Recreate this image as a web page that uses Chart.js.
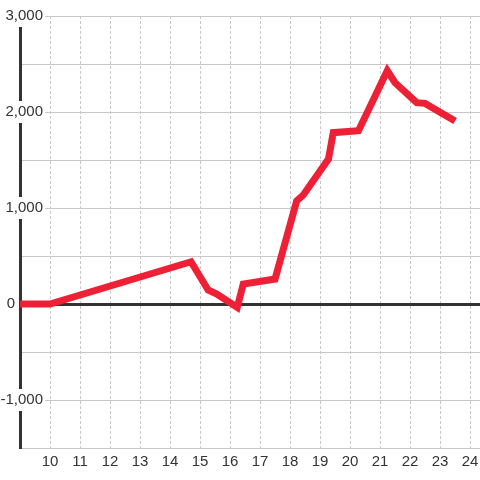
<!DOCTYPE html>
<html>
<head>
<meta charset="utf-8">
<script src="https://cdn.jsdelivr.net/npm/chart.js@4/dist/chart.umd.min.js"></script>
<style>
  html, body { margin: 0; padding: 0; background: #fff; }
  canvas { display: block; }
</style>
</head>
<body>
<canvas id="chart" width="480" height="480"></canvas>
<script>
// line values
var xs = [9, 10, 14.7, 15.27, 15.56, 16.24, 16.44, 17.5, 18.22, 18.44, 19.28, 19.44, 20.28, 21.24, 21.5, 22.22, 22.5, 23.5];
var ys = [0, 0, 440, 146, 104, -35, 208, 260, 1073, 1135, 1510, 1785, 1805, 2430, 2305, 2097, 2090, 1906];

// axis ticks
var xTicks = [10, 11, 12, 13, 14, 15, 16, 17, 18, 19, 20, 21, 22, 23, 24];
var yTicks = [-1500, -1000, -500, 0, 500, 1000, 1500, 2000, 2500, 3000];

var points = xs.map(function (x, i) { return { x: x, y: ys[i] }; });

var tickFont = { family: "'Liberation Sans', Arial, sans-serif", size: 15 };

new Chart(document.getElementById('chart'), {
    type: 'line',
    data: {
        datasets: [{
            data: points,
            borderColor: '#ee2035',
            borderWidth: 7,
            pointRadius: 0,
            tension: 0,
            fill: false
        }]
    },
    options: {
        responsive: false,
        animation: false,
        layout: { padding: { left: 20, top: 16, right: 0, bottom: 0 } },
        plugins: { legend: { display: false }, tooltip: { enabled: false } },
        scales: {
            x: {
                type: 'linear',
                min: 9,
                max: 24.33,
                afterBuildTicks: function (s) { s.ticks = xTicks.map(function (v) { return { value: v }; }); },
                afterFit: function (s) { s.height = 32; },
                border: { display: false, dash: [3, 2] },
                grid: { color: '#c8c8c8', lineWidth: 1, drawTicks: true, tickLength: 5, tickColor: 'rgba(0,0,0,0)' },
                ticks: { padding: 0, color: '#333', font: tickFont, maxRotation: 0 }
            },
            y: {
                min: -1500,
                max: 3000,
                afterBuildTicks: function (s) { s.ticks = yTicks.map(function (v) { return { value: v }; }); },
                afterFit: function (s) { s.width = 0; },
                border: { display: true, color: '#333', width: 3 },
                grid: {
                    drawTicks: false,
                    color: function (c) { return c.tick && c.tick.value === 0 ? '#333' : '#c8c8c8'; },
                    lineWidth: function (c) { return c.tick && c.tick.value === 0 ? 3 : 1; }
                },
                ticks: {
                    mirror: true,
                    crossAlign: 'far',
                    padding: -19.5,
                    color: '#333',
                    font: tickFont,
                    showLabelBackdrop: function (c) { return c.tick.value !== 0 && c.tick.value % 1000 === 0; },
                    backdropColor: '#fff',
                    backdropPadding: 2,
                    callback: function (v) {
                        if (v % 1000 !== 0) return '';
                        if (v === 0) return '0      \u2009';
                        return v.toLocaleString('en-US');
                    }
                }
            }
        }
    }
});
</script>
</body>
</html>
